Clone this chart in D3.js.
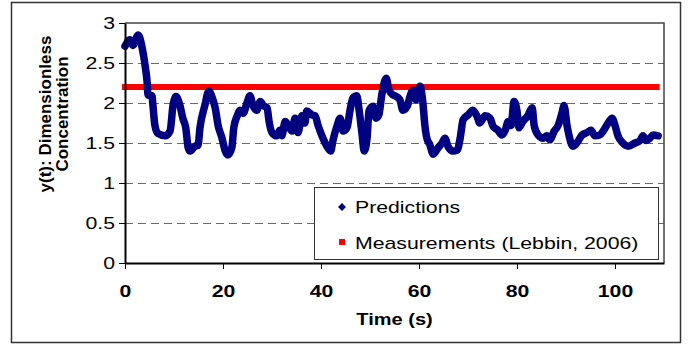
<!DOCTYPE html>
<html>
<head>
<meta charset="utf-8">
<script src="https://cdn.jsdelivr.net/npm/d3@7"></script>
<style>
  html, body { margin: 0; padding: 0; background: #fff; }
  svg { display: block; font-family: "Liberation Sans", Arial, sans-serif; }
</style>
</head>
<body>
<svg id="chart" width="691" height="347"></svg>
<script>
// Predicted dimensionless concentration y(t) over time (s)
const predTime = [0, 1.0, 1.6, 2.7, 3.5, 4.1, 4.5, 4.7, 5.5, 5.7, 6.1, 6.7, 8.2, 9.2, 9.8, 10.4, 11.2, 11.8, 12.4, 12.9,
  13.3, 14.3, 14.9, 15.3, 16.3, 17.1, 18.0, 18.4, 19.0, 19.8, 20.4, 21.0, 21.8, 22.2, 22.9, 23.5, 24.1, 24.9, 25.5, 26.1,
  26.9, 27.6, 28.2, 29.0, 29.4, 30.0, 31.0, 31.6, 32.0, 32.7, 33.3, 34.1, 34.7, 35.3, 36.1, 36.7, 37.1, 38.2, 38.8, 39.4,
  40.4, 41.4, 42.0, 42.4, 43.3, 43.9, 44.5, 45.3, 45.9, 46.5, 47.3, 47.8, 48.4, 48.8, 49.4, 49.8, 50.6, 51.2, 51.8, 52.4,
  53.3, 53.9, 54.7, 55.1, 56.1, 56.7, 57.6, 58.2, 58.8, 59.4, 60.2, 60.8, 61.2, 61.6, 62.2, 62.9, 63.9, 64.7, 65.3, 65.9,
  66.9, 67.8, 68.4, 69.0, 70.0, 71.0, 71.8, 72.4, 73.5, 74.5, 75.1, 76.1, 76.9, 77.6, 78.2, 78.8, 79.4, 80.0, 80.4, 81.2,
  82.2, 83.1, 83.5, 84.3, 85.3, 86.1, 86.7, 87.6, 88.4, 89.2, 89.6, 90.2, 90.6, 91.4, 92.2, 93.3, 94.3, 95.1, 95.9, 96.9,
  97.6, 98.6, 99.4, 100.0, 100.6, 101.6, 102.7, 104.1, 105.1, 105.7, 106.3, 107.1, 107.8, 108.8];
const predValue = [2.71, 2.79, 2.72, 2.85, 2.69, 2.47, 2.27, 2.10, 2.09, 1.97, 1.72, 1.62, 1.59, 1.65, 1.97, 2.08, 1.97, 1.81, 1.69, 1.44,
  1.40, 1.46, 1.47, 1.69, 1.97, 2.15, 2.03, 1.94, 1.72, 1.56, 1.41, 1.35, 1.44, 1.69, 1.84, 1.91, 1.87, 2.00, 2.09, 1.97,
  1.91, 2.02, 1.97, 1.94, 1.77, 1.63, 1.59, 1.66, 1.59, 1.77, 1.72, 1.65, 1.81, 1.63, 1.84, 1.75, 1.90, 1.85, 1.84, 1.72,
  1.56, 1.44, 1.40, 1.52, 1.72, 1.81, 1.65, 1.69, 1.90, 2.06, 2.09, 1.90, 1.60, 1.40, 1.56, 1.90, 1.96, 1.81, 1.85, 2.10,
  2.31, 2.16, 2.10, 2.09, 2.04, 1.91, 1.96, 2.09, 2.16, 2.04, 2.21, 2.00, 1.72, 1.56, 1.48, 1.36, 1.44, 1.50, 1.56, 1.46,
  1.40, 1.41, 1.56, 1.79, 1.85, 1.91, 1.84, 1.75, 1.84, 1.81, 1.71, 1.66, 1.60, 1.66, 1.77, 1.72, 2.02, 1.90, 1.69, 1.77,
  1.84, 1.94, 1.72, 1.60, 1.56, 1.59, 1.54, 1.65, 1.72, 1.88, 1.97, 1.72, 1.60, 1.46, 1.50, 1.60, 1.63, 1.66, 1.59, 1.60,
  1.65, 1.75, 1.81, 1.72, 1.59, 1.50, 1.46, 1.50, 1.53, 1.59, 1.53, 1.56, 1.60, 1.59];

// Measured concentration (Lebbin, 2006), constant over the record
const measTime = [0, 108.5];
const measValue = [2.2, 2.2];

// Axis ticks and labels
const xTicks = [0, 20, 40, 60, 80, 100];
const yTicks = [0, 0.5, 1, 1.5, 2, 2.5, 3];
const yGrid = [0.5, 1, 1.5, 2, 2.5];
const xTitle = "Time (s)";
const yTitleLines = ["y(t): Dimensionless", "Concentration"];
const legendLabels = ["Predictions", "Measurements (Lebbin, 2006)"];

const BLUE = "#000080", RED = "#ff0000";
const SX = 1.25; // horizontal stretch applied to upright text

const svg = d3.select("#chart");
const plot = { left: 125, right: 664, top: 23, bottom: 263 };

const x = d3.scaleLinear().domain([0, 110]).range([plot.left, plot.right]);
const y = d3.scaleLinear().domain([0, 3]).range([plot.bottom, plot.top]);

// Outer frame
svg.append("rect")
  .attr("x", 11.5).attr("y", 2.5).attr("width", 669).attr("height", 340)
  .attr("fill", "#fff").attr("stroke", "#333").attr("stroke-width", 1.5);

// Dashed horizontal gridlines
svg.append("g").selectAll("line").data(yGrid).join("line")
  .attr("x1", plot.left).attr("x2", plot.right)
  .attr("y1", d => Math.round(y(d)) + 0.5).attr("y2", d => Math.round(y(d)) + 0.5)
  .attr("stroke", "#6a6a6a").attr("stroke-width", 1).attr("stroke-dasharray", "8,5");

// Plot area top/right border
svg.append("path")
  .attr("d", `M${plot.left},${plot.top}H${plot.right}V${plot.bottom}`)
  .attr("fill", "none").attr("stroke", "#444").attr("stroke-width", 1.5);

// Measurements line
const line = d3.line().x(d => x(d[0])).y(d => y(d[1]));
svg.append("path")
  .datum(measTime.map((t, i) => [t, measValue[i]]))
  .attr("d", line)
  .attr("fill", "none").attr("stroke", RED).attr("stroke-width", 6).attr("stroke-linecap", "square");

// Predictions series
svg.append("path")
  .datum(predTime.map((t, i) => [t, predValue[i]]))
  .attr("d", line.curve(d3.curveMonotoneX))
  .attr("fill", "none").attr("stroke", BLUE).attr("stroke-width", 7.5)
  .attr("stroke-linejoin", "round").attr("stroke-linecap", "round");

// Axes
const xAxis = svg.append("g")
  .attr("transform", `translate(0,${plot.bottom})`)
  .call(d3.axisBottom(x).tickValues(xTicks).tickSize(6).tickSizeOuter(0).tickFormat(d3.format("d")));
xAxis.select(".domain").attr("stroke", "#000").attr("stroke-width", 2);
xAxis.selectAll(".tick line").attr("stroke", "#000").attr("stroke-width", 1);
xAxis.selectAll(".tick text")
  .attr("y", 34).attr("dy", 0)
  .attr("transform", `scale(${SX},1)`)
  .attr("font-size", 17).attr("font-weight", "bold").attr("fill", "#000")
  .attr("font-family", "'Liberation Sans', Arial, sans-serif");

const yAxis = svg.append("g")
  .attr("transform", `translate(${plot.left},0)`)
  .call(d3.axisLeft(y).tickValues(yTicks).tickSize(6).tickSizeOuter(0).tickFormat(d3.format("")));
yAxis.select(".domain").attr("stroke", "#000").attr("stroke-width", 2);
yAxis.selectAll(".tick line").attr("stroke", "#000").attr("stroke-width", 1);
yAxis.selectAll(".tick text")
  .attr("x", -8).attr("dy", "0.34em")
  .attr("transform", `scale(${SX},1)`)
  .attr("font-size", 17).attr("fill", "#000")
  .attr("font-family", "'Liberation Sans', Arial, sans-serif");

// Axis titles
svg.append("text")
  .attr("transform", `translate(${(plot.left + plot.right) / 2},325) scale(${SX},1)`)
  .attr("text-anchor", "middle").attr("font-size", 16).attr("font-weight", "bold")
  .text(xTitle);

const yTitle = svg.append("text")
  .attr("transform", "translate(51,114) rotate(-90)")
  .attr("text-anchor", "middle").attr("font-size", 17).attr("font-weight", "bold");
yTitle.selectAll("tspan").data(yTitleLines).join("tspan")
  .attr("x", 0).attr("dy", (d, i) => i === 0 ? 0 : 17)
  .text(d => d);

// Legend
const lg = svg.append("g").attr("transform", "translate(314,187)");
lg.append("rect")
  .attr("x", 0.5).attr("y", 0.5).attr("width", 344).attr("height", 72)
  .attr("fill", "#fff").attr("stroke", "#333").attr("stroke-width", 1);
lg.append("path")
  .attr("d", d3.symbol(d3.symbolDiamond2, 40)())
  .attr("transform", "translate(28,20)").attr("fill", BLUE);
lg.append("rect")
  .attr("x", 25).attr("y", 52).attr("width", 6).attr("height", 6).attr("fill", RED);
lg.selectAll("text.lbl").data(legendLabels).join("text")
  .attr("class", "lbl")
  .attr("transform", (d, i) => `translate(41,${i === 0 ? 26 : 62}) scale(${SX},1)`)
  .attr("font-size", 17).attr("fill", "#000")
  .text(d => d);
</script>
</body>
</html>
